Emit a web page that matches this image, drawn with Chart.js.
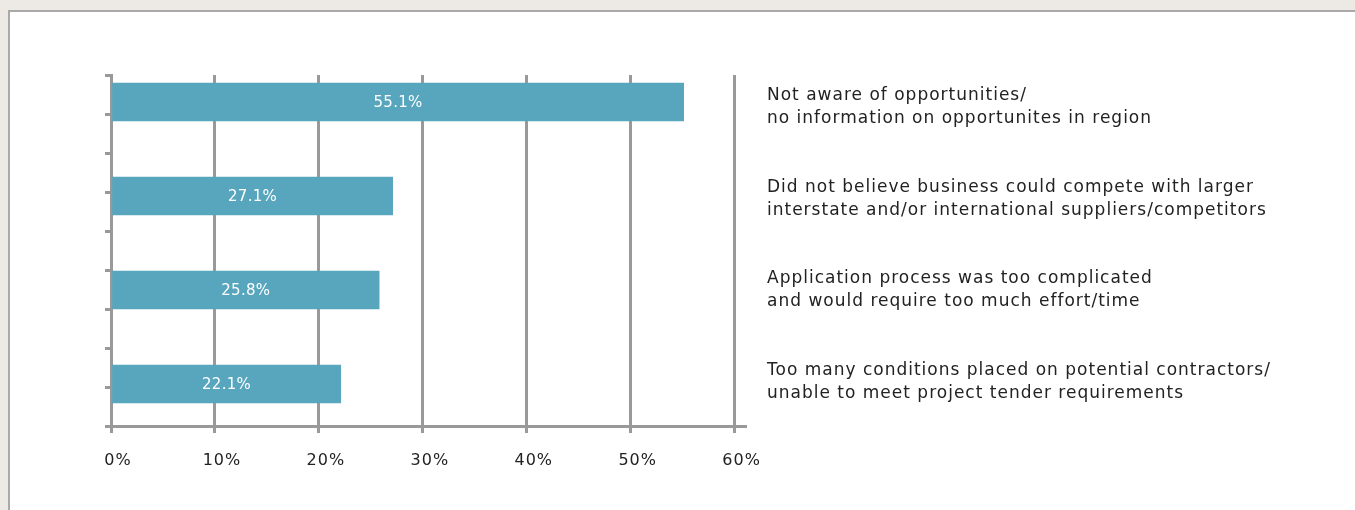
<!DOCTYPE html>
<html>
<head>
<meta charset="utf-8">
<title>Reasons for not bidding</title>
<script src="https://cdn.jsdelivr.net/npm/chart.js@4/dist/chart.umd.min.js"></script>
<style>
  html, body { margin: 0; padding: 0; }
  body { background: #ede9e4; width: 1355px; height: 510px; overflow: hidden; position: relative; }
  .panel {
    position: absolute; left: 8px; top: 10px; right: -10px; bottom: -10px;
    background: #fff;
    border-left: 2px solid #a9a9a9;
    border-top: 2px solid #a9a9a9;
  }
  .chart-wrap { position: absolute; left: 0; top: 0; width: 1355px; height: 510px; }
</style>
</head>
<body>
<div class="panel"></div>
<div class="chart-wrap"><canvas id="reasonsChart"></canvas></div>
<script>
// ── Data ──────────────────────────────────────────────────────────────────

const categories = [
  ['Not aware of opportunities/', 'no information on opportunites in region'],
  ['Did not believe business could compete with larger', 'interstate and/or international suppliers/competitors'],
  ['Application process was too complicated', 'and would require too much effort/time'],
  ['Too many conditions placed on potential contractors/', 'unable to meet project tender requirements'],
];
const shares = [55.1, 27.1, 25.8, 22.1];
const xTicks = [0, 10, 20, 30, 40, 50, 60];
const yTickMarks = [0, 1, 2, 3, 4, 5, 6, 7, 8, 9];

const COLORS = {
  bar:   '#58a6be',
  grid:  '#999999',
  text:  '#222222',
  label: '#ffffff',
};
const FONT = 'DejaVu Sans';

// ── Plugins ────────────────────────────────────────────────────────────────

// wider tracking for all axis text
const textTracking = {
  id: 'textTracking',
  beforeDraw(chart) { chart.ctx.letterSpacing = '1px'; },
};

const barValueLabels = {
  id: 'barValueLabels',
  afterDatasetsDraw(chart) {
    const ctx = chart.ctx;
    const meta = chart.getDatasetMeta(0);
    ctx.save();
    ctx.letterSpacing = '0.3px';
    ctx.fillStyle = COLORS.label;
    ctx.font = '15px "' + FONT + '"';
    ctx.textAlign = 'center';
    ctx.textBaseline = 'middle';
    meta.data.forEach((bar, i) => {
      ctx.fillText(shares[i].toFixed(1) + '%', (bar.base + bar.x) / 2, bar.y + 1);
    });
    ctx.restore();
  }
};

// ── Chart ──────────────────────────────────────────────────────────────────

const ctx = document.getElementById('reasonsChart');

new Chart(ctx, {
  type: 'bar',
  data: {
    datasets: [{
      data: shares.map((v, i) => ({ x: v, y: i })),
      backgroundColor: COLORS.bar,
      borderWidth: 0,
      barThickness: 38,
      xAxisID: 'x',
      yAxisID: 'y',
    }]
  },
  plugins: [textTracking, barValueLabels],
  options: {
    indexAxis: 'y',
    responsive: true,
    maintainAspectRatio: false,
    animation: false,
    layout: { padding: { top: 75, left: 0, right: 0, bottom: 0 } },
    plugins: {
      legend: { display: false },
      tooltip: { enabled: false },
    },
    scales: {
      x: {
        type: 'linear',
        position: 'bottom',
        min: 0, max: 61,
        afterBuildTicks: s => { s.ticks = xTicks.map(v => ({ value: v })); },
        afterFit: s => { s.height = 84; },
        grid: { color: COLORS.grid, lineWidth: 3, tickLength: 7, drawTicks: true },
        border: { display: true, color: COLORS.grid, width: 3 },
        ticks: {
          color: COLORS.text,
          font: { family: FONT, size: 16 },
          padding: 18,
          labelOffset: 7,
          maxRotation: 0,
          callback: v => v + '%',
        },
      },
      // bar positions (one slot per category)
      y: {
        type: 'linear',
        display: false,
        position: 'right',
        reverse: true,
        offset: false,
        min: -0.287, max: 3.447,
      },
      // category text on the right
      yLabels: {
        type: 'linear',
        position: 'right',
        reverse: true,
        offset: false,
        min: -0.349, max: 3.479,
        afterBuildTicks: s => { s.ticks = categories.map((c, i) => ({ value: i })); },
        afterFit: s => { s.width = 610; },
        grid: { display: false, drawTicks: false, offset: false },
        border: { display: false },
        ticks: {
          color: COLORS.text,
          font: { family: FONT, size: 17, lineHeight: 1.35 },
          padding: 22,
          callback: (v, i) => categories[i],
        },
      },
      // left axis line with its tick marks
      yMarks: {
        type: 'linear',
        position: 'left',
        reverse: true,
        offset: false,
        min: 0, max: 9,
        afterBuildTicks: s => { s.ticks = yTickMarks.map(v => ({ value: v })); },
        afterFit: s => { s.width = 111; },
        grid: { drawOnChartArea: false, offset: false, color: COLORS.grid, lineWidth: 3, tickLength: 6 },
        border: { display: true, color: COLORS.grid, width: 3 },
        ticks: { display: false },
      },
    }
  }
});
</script>
</body>
</html>
